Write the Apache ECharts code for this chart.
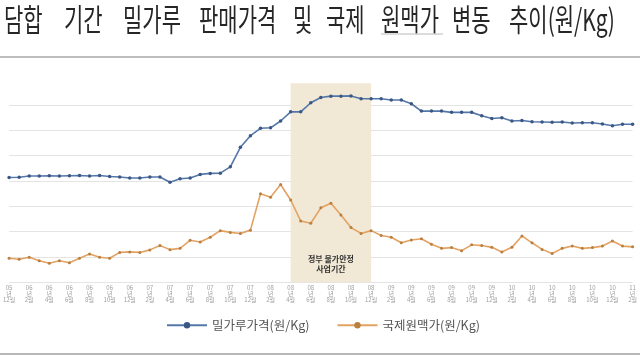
<!DOCTYPE html>
<html>
<head>
<meta charset="utf-8">
<script src="https://cdn.jsdelivr.net/npm/echarts@6/dist/echarts.min.js"></script>
<style>
  html, body { margin: 0; padding: 0; background: #fff; }
  #chart { width: 640px; height: 360px; }
</style>
</head>
<body>
<div id="chart"></div>
<script>
// 월별 (원/Kg) - 그림에서 읽은 값
var months = [
    '05.12',
    '06.01', '06.02', '06.03', '06.04', '06.05', '06.06', '06.07', '06.08', '06.09', '06.10', '06.11', '06.12',
    '07.01', '07.02', '07.03', '07.04', '07.05', '07.06', '07.07', '07.08', '07.09', '07.10', '07.11', '07.12',
    '08.01', '08.02', '08.03', '08.04', '08.05', '08.06', '08.07', '08.08', '08.09', '08.10', '08.11', '08.12',
    '09.01', '09.02', '09.03', '09.04', '09.05', '09.06', '09.07', '09.08', '09.09', '09.10', '09.11', '09.12',
    '10.01', '10.02', '10.03', '10.04', '10.05', '10.06', '10.07', '10.08', '10.09', '10.10', '10.11', '10.12',
    '11.01', '11.02'
];

var flourPrice = [
    414,
    415, 420, 420, 421, 420, 421, 422, 420, 422, 418, 416, 412,
    412, 416, 416, 395, 409, 412, 426, 430, 431, 456, 533, 579,
    608, 610, 637, 673, 673, 709, 730, 735, 735, 736, 725, 725,
    725, 720, 720, 705, 676, 676, 676, 671, 671, 671, 658, 647,
    650, 637, 639, 634, 633, 632, 633, 629, 630, 630, 625, 618,
    624, 624
];

var wheatPrice = [
    95,
    91, 99, 85, 75, 85, 77, 95, 112, 99, 95, 118, 120,
    118, 128, 145, 129, 134, 166, 159, 178, 204, 197, 193, 206,
    350, 336, 386, 325, 242, 233, 294, 312, 266, 216, 193, 204,
    185, 178, 156, 167, 172, 150, 134, 137, 125, 148, 145, 138,
    120, 138, 183, 156, 130, 114, 134, 143, 134, 137, 143, 163,
    143, 140
];

var seriesNames = ['밀가루가격(원/Kg)', '국제원맥가(원/Kg)'];
// 정부 물가안정 사업기간
var bandStart = '08.04';
var bandEnd = '08.12';

// 제목 (단어별로 배치)
var titleWords = ['담합', '기간', '밀가루', '판매가격', '및', '국제', '원맥가', '변동', '추이(원/Kg)'];
var titleX = [4, 64, 123, 199, 293, 326, 381, 452, 509];

var myChart = echarts.init(document.getElementById('chart'));

var gridColors = [];
for (var k = 0; k < 8; k++) gridColors.push('#e4e4e4');
gridColors.push('rgba(0,0,0,0)');

var graphics = titleWords.map(function (w, i) {
    return {
        type: 'text', x: titleX[i], y: 19, scaleY: 1.45,
        style: {
            text: w,
            font: '21px "Noto Sans CJK KR"',
            fill: '#262626',
            verticalAlign: 'middle'
        }
    };
});
graphics.push(
    { type: 'line', shape: { x1: 381, y1: 34, x2: 443, y2: 34 }, style: { stroke: '#d0d0d0', lineWidth: 1.5 } },
    { type: 'line', shape: { x1: 0, y1: 57, x2: 640, y2: 57 }, style: { stroke: '#a8a8a8', lineWidth: 1.5 } },
    { type: 'line', shape: { x1: 0, y1: 354, x2: 640, y2: 354 }, style: { stroke: '#b8b8b8', lineWidth: 2 } }
);

var option = {
    animation: false,
    textStyle: { fontFamily: '"Noto Sans CJK KR", sans-serif' },
    graphic: graphics,
    legend: {
        data: seriesNames,
        left: 161,
        top: 314,
        itemWidth: 40,
        itemHeight: 8,
        itemGap: 27,
        textStyle: { fontSize: 12.5, color: '#555' }
    },
    grid: { left: -5.45, right: -2.45, top: 79.7, bottom: 77.7 },
    xAxis: {
        type: 'category',
        data: months,
        boundaryGap: false,
        axisLine: { show: false },
        axisTick: { show: false },
        axisLabel: {
            interval: 1,
            margin: 2,
            fontSize: 6,
            lineHeight: 6,
            color: '#a0a0a0',
            formatter: function (v) {
                var p = v.split('.');
                return p[0] + '\n년\n' + (+p[1]) + '월';
            }
        }
    },
    yAxis: {
        type: 'value',
        min: 0,
        max: 800,
        interval: 100,
        axisLabel: { show: false },
        axisLine: { show: false },
        axisTick: { show: false },
        splitLine: { lineStyle: { color: gridColors, width: 1 } }
    },
    series: [
        {
            name: seriesNames[0],
            type: 'line',
            data: flourPrice,
            symbol: 'circle',
            symbolSize: 3.5,
            lineStyle: { color: '#5477aa', width: 1.6 },
            itemStyle: { color: '#3b5784' },
            z: 3,
            markArea: {
                silent: true,
                itemStyle: { color: '#f1e8d5' },
                label: {
                    show: true,
                    position: 'insideBottom',
                    distance: 8,
                    formatter: '정부 물가안정\n사업기간',
                    fontSize: 8,
                    lineHeight: 10,
                    fontWeight: 'bold',
                    color: '#333'
                },
                data: [[{ xAxis: bandStart, yAxis: 786 }, { xAxis: bandEnd, yAxis: 0 }]]
            }
        },
        {
            name: seriesNames[1],
            type: 'line',
            data: wheatPrice,
            symbol: 'circle',
            symbolSize: 3,
            lineStyle: { color: '#e4a262', width: 1.6 },
            itemStyle: { color: '#b9803f' },
            z: 3
        }
    ]
};

myChart.setOption(option);
</script>
</body>
</html>
